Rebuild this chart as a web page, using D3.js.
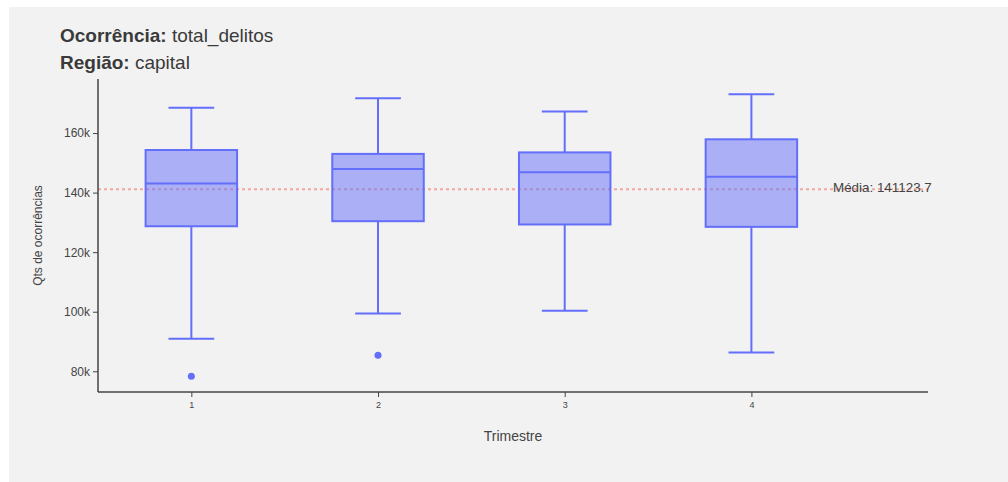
<!DOCTYPE html>
<html>
<head>
<meta charset="utf-8">
<script src="https://cdn.jsdelivr.net/npm/d3@7"></script>
<style>
  html, body { margin: 0; padding: 0; background: #ffffff; }
  svg { display: block; font-family: "Liberation Sans", Arial, sans-serif; }
</style>
</head>
<body>
<svg id="chart" width="1008" height="482"></svg>
<script>
// Quarterly distribution of total offences (capital region)
const trimestres = [1, 2, 3, 4];
const lowerFence = [90900, 99400, 100300, 86300];
const q1 = [128700, 130400, 129300, 128500];
const medians = [143100, 147900, 146800, 145300];
const q3 = [154300, 153000, 153500, 157900];
const upperFence = [168500, 171700, 167200, 173000];
const outliers = [[78300], [85400], [], []];
const media = 141123.7;
const yTicks = [80000, 100000, 120000, 140000, 160000];

const svg = d3.select("#chart");
const W = 1008, H = 482;
const plot = { left: 98, right: 928, top: 79, bottom: 392 };

// figure background
svg.append("rect").attr("x", 9).attr("y", 7).attr("width", W - 9).attr("height", H - 7)
  .attr("fill", "#f2f2f2");

const x = d3.scaleLinear().domain([0.5, 4.946]).range([plot.left, plot.right]);
const y = d3.scaleLinear().domain([73042, 178150]).range([plot.bottom, plot.top]);

const boxColor = "#636efa";
const halfBox = 0.245, halfCap = 0.1225;

// mean reference line
svg.append("line")
  .attr("x1", plot.left).attr("x2", plot.right)
  .attr("y1", y(media)).attr("y2", y(media))
  .attr("stroke", "#f26b5b").attr("stroke-opacity", 0.55)
  .attr("stroke-width", 2).attr("stroke-dasharray", "3,3");

// boxes
const boxes = trimestres.map((t, i) => ({
  t, lo: lowerFence[i], q1: q1[i], med: medians[i], q3: q3[i], hi: upperFence[i], out: outliers[i]
}));

const g = svg.append("g");
boxes.forEach(b => {
  const gg = g.append("g");
  // whiskers
  gg.append("line").attr("x1", x(b.t)).attr("x2", x(b.t))
    .attr("y1", y(b.q3)).attr("y2", y(b.hi))
    .attr("stroke", boxColor).attr("stroke-width", 2);
  gg.append("line").attr("x1", x(b.t)).attr("x2", x(b.t))
    .attr("y1", y(b.q1)).attr("y2", y(b.lo))
    .attr("stroke", boxColor).attr("stroke-width", 2);
  [b.hi, b.lo].forEach(v => {
    gg.append("line").attr("x1", x(b.t - halfCap)).attr("x2", x(b.t + halfCap))
      .attr("y1", y(v)).attr("y2", y(v))
      .attr("stroke", boxColor).attr("stroke-width", 2);
  });
  // box
  gg.append("rect")
    .attr("x", x(b.t - halfBox)).attr("width", x(b.t + halfBox) - x(b.t - halfBox))
    .attr("y", y(b.q3)).attr("height", y(b.q1) - y(b.q3))
    .attr("fill", boxColor).attr("fill-opacity", 0.5)
    .attr("stroke", boxColor).attr("stroke-width", 2);
  // median
  gg.append("line").attr("x1", x(b.t - halfBox)).attr("x2", x(b.t + halfBox))
    .attr("y1", y(b.med)).attr("y2", y(b.med))
    .attr("stroke", boxColor).attr("stroke-width", 2);
  // outliers
  b.out.forEach(v => {
    gg.append("circle").attr("cx", x(b.t)).attr("cy", y(v)).attr("r", 3.5)
      .attr("fill", boxColor);
  });
});

// mean label
svg.append("text")
  .attr("x", 833).attr("y", y(media) - 1)
  .attr("dominant-baseline", "middle")
  .attr("font-size", 13.4).attr("fill", "#444")
  .text("Média: " + media);

// axes
const yAxis = d3.axisLeft(y).tickValues(yTicks).tickSize(5).tickPadding(3)
  .tickFormat(d => (d / 1000) + "k");
const ya = svg.append("g").attr("transform", `translate(${plot.left},0)`).call(yAxis);
ya.select(".domain").attr("d", `M0,${plot.top}V${plot.bottom}`);
ya.selectAll("text").attr("font-size", 12).attr("fill", "#444").attr("font-family", "Liberation Sans, Arial, sans-serif");

const xAxis = d3.axisBottom(x).tickValues(trimestres).tickSize(5).tickPadding(5)
  .tickFormat(d3.format("d"));
const xa = svg.append("g").attr("transform", `translate(0,${plot.bottom})`).call(xAxis);
xa.select(".domain").attr("d", `M${plot.left},0H${plot.right}`);
xa.selectAll("text").attr("font-size", 9).attr("fill", "#444").attr("font-family", "Liberation Sans, Arial, sans-serif");

[ya, xa].forEach(a => {
  a.select(".domain").attr("stroke", "#444").attr("stroke-width", 1.5);
  a.selectAll(".tick line").attr("stroke", "#444");
});

// axis titles
svg.append("text")
  .attr("transform", `translate(42,${(plot.top + plot.bottom) / 2}) rotate(-90)`)
  .attr("text-anchor", "middle").attr("font-size", 12).attr("fill", "#444")
  .text("Qts de ocorrências");
svg.append("text")
  .attr("x", (plot.left + plot.right) / 2).attr("y", 441)
  .attr("text-anchor", "middle").attr("font-size", 14).attr("fill", "#444")
  .text("Trimestre");

// title
const title = svg.append("text").attr("x", 60).attr("font-size", 19).attr("fill", "#3a3a3a");
const l1 = title.append("tspan").attr("x", 60).attr("y", 42);
l1.append("tspan").attr("font-weight", "bold").text("Ocorrência:");
l1.append("tspan").text(" total_delitos");
const l2 = title.append("tspan").attr("x", 60).attr("y", 69);
l2.append("tspan").attr("font-weight", "bold").text("Região:");
l2.append("tspan").text(" capital");
</script>
</body>
</html>
